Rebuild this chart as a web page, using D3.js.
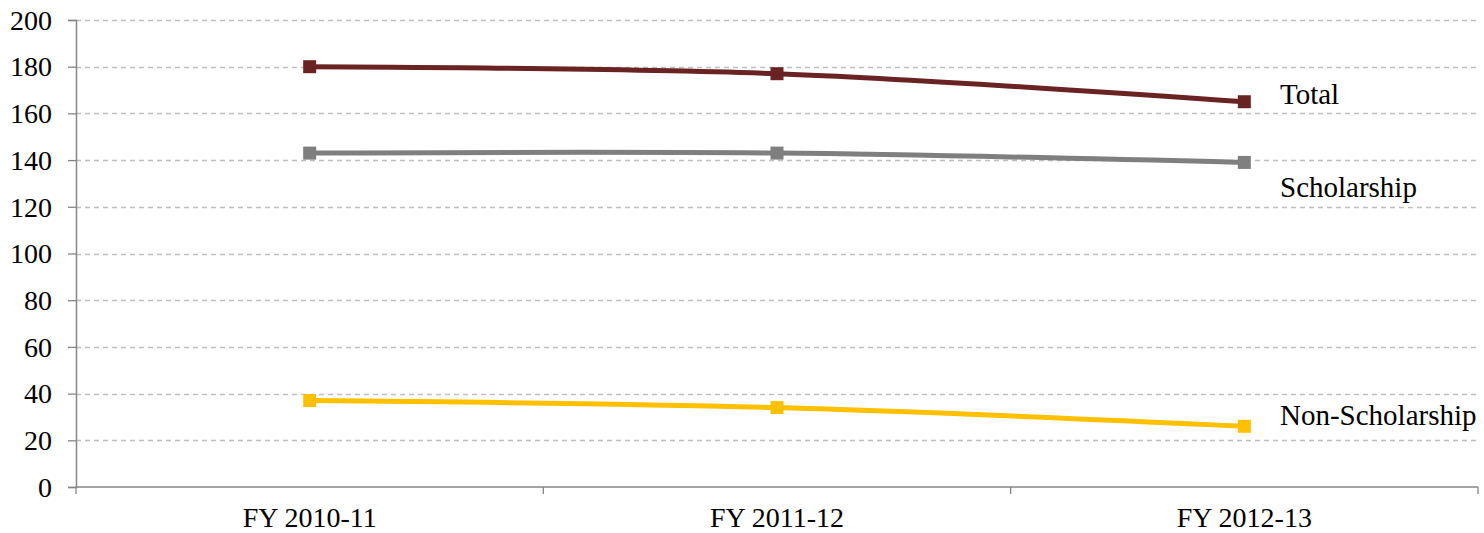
<!DOCTYPE html>
<html>
<head>
<meta charset="utf-8">
<script src="https://cdn.jsdelivr.net/npm/d3@7"></script>
<style>
html,body{margin:0;padding:0;background:#fff;}
svg{display:block;}
text{font-family:"Liberation Serif","Times New Roman",serif;fill:#000;}
</style>
</head>
<body>
<svg id="chart" width="1484" height="533"></svg>
<script>
const categories = ["FY 2010-11", "FY 2011-12", "FY 2012-13"];
const totalValues = [180, 177, 165];
const scholarshipValues = [143, 143, 139];
const nonScholarshipValues = [37, 34, 26];
const yTicks = [0, 20, 40, 60, 80, 100, 120, 140, 160, 180, 200];
const seriesNames = ["Total", "Scholarship", "Non-Scholarship"];

(function () {
const series = [
  {name: seriesNames[0], values: totalValues, color: "#6a2323", labelDy: 2},
  {name: seriesNames[1], values: scholarshipValues, color: "#7f7f7f", labelDy: 35},
  {name: seriesNames[2], values: nonScholarshipValues, color: "#ffc000", labelDy: -1}
];

const svg = d3.select("#chart");
const mLeft = 76, mRight = 1478, mTop = 20, mBottom = 487;

const x = d3.scaleBand().domain(categories).range([mLeft, mRight]).padding(0);
const y = d3.scaleLinear().domain([0, 200]).range([mBottom, mTop]);

// gridlines
svg.append("g").selectAll("line").data(yTicks.filter(d => d > 0)).join("line")
  .attr("x1", mLeft).attr("x2", mRight)
  .attr("y1", d => Math.round(y(d)) + 0.5).attr("y2", d => Math.round(y(d)) + 0.5)
  .attr("stroke", "#bfbfbf").attr("stroke-width", 1.4).attr("stroke-dasharray", "5,4");

// y axis
const yAxis = svg.append("g").attr("transform", `translate(${mLeft},0)`)
  .call(d3.axisLeft(y).tickValues(yTicks).tickSize(8).tickPadding(16).tickFormat(d3.format("d")));
yAxis.select(".domain").attr("stroke", "#868686").attr("stroke-width", 1.5);
yAxis.selectAll(".tick line").attr("stroke", "#868686").attr("stroke-width", 1.3);
yAxis.selectAll("text").attr("font-size", 28).attr("fill", "#000").attr("dy", "0.33em");

// x axis
const xAxis = svg.append("g").attr("transform", `translate(0,${mBottom})`)
  .call(d3.axisBottom(x).tickSize(0).tickPadding(20));
xAxis.select(".domain").attr("stroke", "#868686").attr("stroke-width", 1.5).attr("d", `M${mLeft},0H${mRight}`);
xAxis.selectAll("text").attr("font-size", 28).attr("fill", "#000");
// boundary ticks
const boundaries = [mLeft].concat(categories.map(c => x(c) + x.bandwidth()));
svg.append("g").selectAll("line").data(boundaries).join("line")
  .attr("x1", d => d).attr("x2", d => d).attr("y1", mBottom).attr("y2", mBottom + 7)
  .attr("stroke", "#868686").attr("stroke-width", 1.3);

const cx = c => x(c) + x.bandwidth() / 2;
const line = d3.line().x((d, i) => cx(categories[i])).y(d => y(d)).curve(d3.curveCardinal.tension(0));

series.forEach(s => {
  svg.append("path").datum(s.values)
    .attr("d", line).attr("fill", "none").attr("stroke", s.color).attr("stroke-width", 5);
  svg.append("g").selectAll("rect").data(s.values).join("rect")
    .attr("x", (d, i) => cx(categories[i]) - 6.5).attr("y", d => y(d) - 6.5)
    .attr("width", 13).attr("height", 13).attr("fill", s.color);
  const last = s.values[s.values.length - 1];
  svg.append("text").attr("x", 1280).attr("y", y(last) + s.labelDy)
    .attr("font-size", 29).text(s.name);
});
})();
</script>
</body>
</html>
